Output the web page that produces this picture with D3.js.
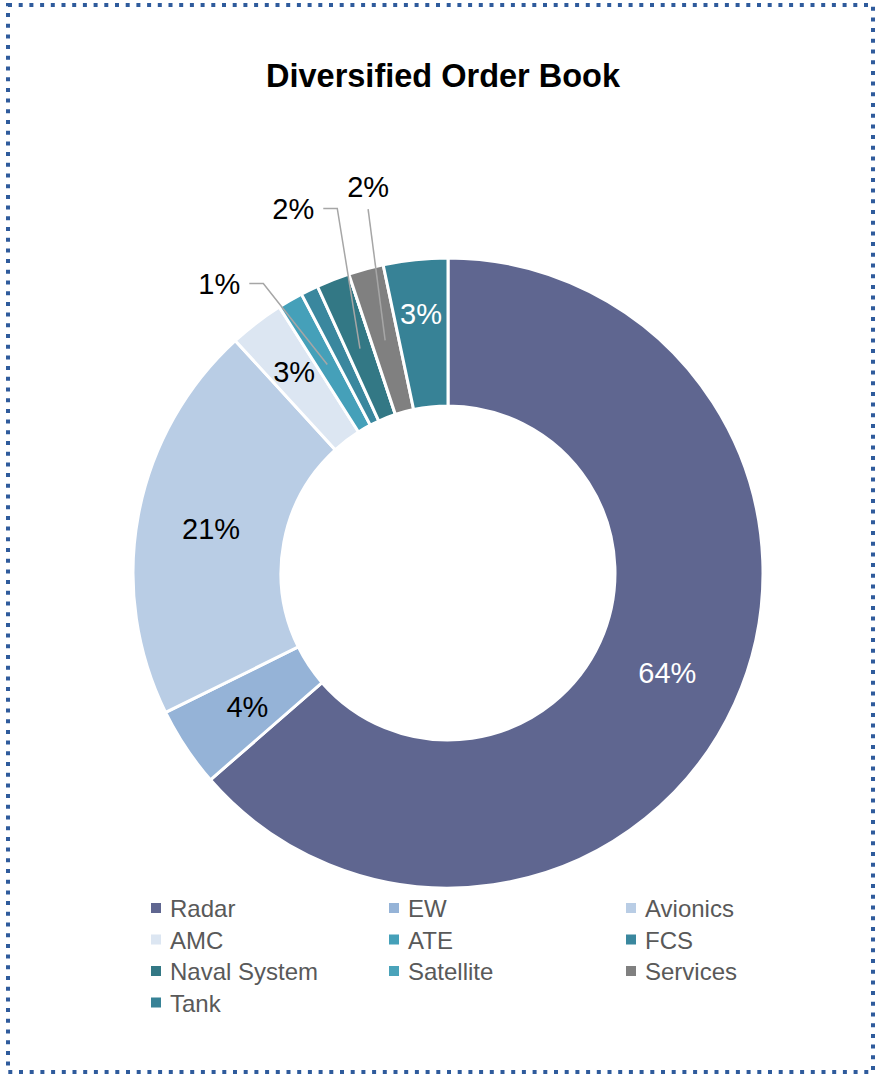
<!DOCTYPE html>
<html>
<head>
<meta charset="utf-8">
<script src="https://cdn.jsdelivr.net/npm/d3@7"></script>
<style>
  body { margin: 0; background: #fff; }
  text { font-family: "Liberation Sans", Arial, sans-serif; }
</style>
</head>
<body>
<div id="container"></div>
<script>
const width = 876;
const height = 1076;

// Data (share of order book, %)
const categories = [
  "Radar", "EW", "Avionics", "AMC", "ATE",
  "FCS", "Naval System", "Satellite", "Services", "Tank",
];
const shares = [63.6, 4.1, 20.5, 2.8, 1.3, 0.9, 1.7, 0, 1.8, 3.3];
const colours = [
  "#5f6690", "#95b3d7", "#b9cde5", "#dce6f2", "#45a0b9",
  "#3a879e", "#337885", "#4aa3ba", "#808080", "#378296",
];
// which slices show a data label, and how
const insideLabels = ["Radar", "EW", "Avionics", "AMC", "Tank"];
const whiteLabels = ["Radar", "Tank"];
const calloutLabels = ["ATE", "Naval System", "Services"];

const data = categories.map((name, i) => ({
  name: name,
  value: shares[i],
  colour: colours[i],
}));

const svg = d3
  .select("#container")
  .append("svg")
  .attr("width", width)
  .attr("height", height);

// dotted frame
svg
  .append("rect")
  .attr("x", 8)
  .attr("y", 5)
  .attr("width", 865)
  .attr("height", 1067)
  .style("fill", "none")
  .style("stroke", "#2f5b9c")
  .style("stroke-width", 4)
  .style("stroke-dasharray", "4,6.7");

svg
  .append("text")
  .attr("x", 443)
  .attr("y", 87)
  .attr("text-anchor", "middle")
  .style("font-size", "32.5px")
  .style("font-weight", "bold")
  .style("fill", "#000")
  .text("Diversified Order Book");

const cx = 448;
const cy = 573;
const outerR = 315;
const innerR = 167;

const pie = d3.pie().sort(null).value((d) => d.value);
const arc = d3.arc().innerRadius(innerR).outerRadius(outerR);
const arcs = pie(data);

const g = svg.append("g").attr("transform", `translate(${cx},${cy})`);

g.selectAll("path")
  .data(arcs)
  .enter()
  .append("path")
  .attr("d", arc)
  .style("fill", (d) => d.data.colour)
  .style("stroke", "#fff")
  .style("stroke-width", 3);

const pct = (v) => Math.round(v) + "%";
const labelSize = "29px";

// labels sitting on the slices
const radialNudge = { Tank: 20, AMC: 12 };
g.selectAll(".inside")
  .data(arcs.filter((d) => insideLabels.includes(d.data.name)))
  .enter()
  .append("text")
  .attr("class", "inside")
  .attr("transform", (d) => {
    const a = (d.startAngle + d.endAngle) / 2;
    const r = (innerR + outerR) / 2 + (radialNudge[d.data.name] || 0);
    return `translate(${r * Math.sin(a)},${-r * Math.cos(a)})`;
  })
  .attr("text-anchor", "middle")
  .attr("dy", "0.35em")
  .style("font-size", labelSize)
  .style("fill", (d) => (whiteLabels.includes(d.data.name) ? "#fff" : "#000"))
  .text((d) => pct(d.data.value));

// callout labels dragged outside the ring (polar: angle in degrees, radius)
const calloutPlace = {
  ATE: { angle: 321.7, r: 369, side: "left" },
  "Naval System": { angle: 337, r: 396, side: "left" },
  Services: { angle: 348.3, r: 394, side: "top" },
};

const callouts = arcs.filter((d) => calloutLabels.includes(d.data.name));
callouts.forEach((d) => {
  const p = calloutPlace[d.data.name];
  const a = (p.angle * Math.PI) / 180;
  const lx = p.r * Math.sin(a);
  const ly = -p.r * Math.cos(a);
  const [mx, my] = arc.centroid(d);
  let pts;
  if (p.side === "left") {
    pts = [[lx + 30, ly], [lx + 44, ly], [mx, my]];
  } else {
    pts = [[lx, ly + 22], [mx, my]];
  }
  g.append("path")
    .attr("d", d3.line()(pts))
    .style("fill", "none")
    .style("stroke", "#a6a6a6")
    .style("stroke-width", 1.5);
  g.append("text")
    .attr("x", lx)
    .attr("y", ly)
    .attr("text-anchor", "middle")
    .attr("dy", "0.35em")
    .style("font-size", labelSize)
    .style("fill", "#000")
    .text(pct(d.data.value));
});

// legend, three columns
const colX = [151, 389, 626];
const rowY = 917;
const rowStep = 31.5;
const legend = svg
  .selectAll(".legend")
  .data(data)
  .enter()
  .append("g")
  .attr("class", "legend")
  .attr(
    "transform",
    (d, i) => `translate(${colX[i % 3]},${rowY + Math.floor(i / 3) * rowStep})`
  );

legend
  .append("rect")
  .attr("x", 0)
  .attr("y", -14)
  .attr("width", 10)
  .attr("height", 10)
  .style("fill", (d) => d.colour);

legend
  .append("text")
  .attr("x", 19)
  .attr("y", 0)
  .style("font-size", "24px")
  .style("fill", "#595959")
  .text((d) => d.name);
</script>
</body>
</html>
